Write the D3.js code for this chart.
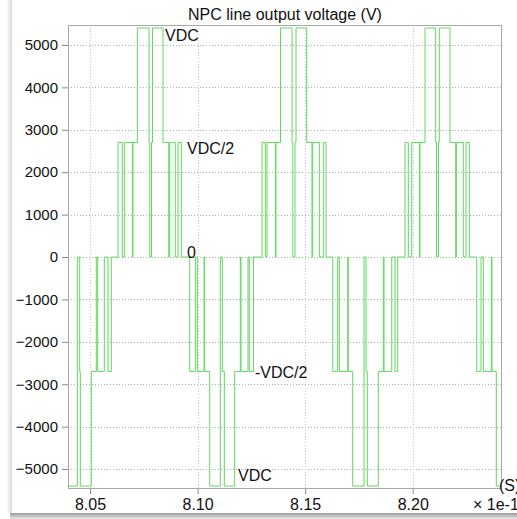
<!DOCTYPE html>
<html>
<head>
<meta charset="utf-8">
<script src="https://cdn.jsdelivr.net/npm/d3@7"></script>
<style>
html, body { margin: 0; padding: 0; background: #fff; overflow: hidden; }
svg { display: block; }
text { font-family: "Liberation Sans", Arial, sans-serif; fill: #111; }
</style>
</head>
<body>
<svg id="chart" width="517" height="519"></svg>
<script>
// ---- data (time in units of 1e-1 s, voltage in V) ----
const stepTimes = [
  8.03977, 8.04410, 8.04521, 8.04549, 8.05060, 8.05293, 8.05358, 8.05665, 8.05837, 8.05990,
  8.06302, 8.06501, 8.06594, 8.06966, 8.06999, 8.07199, 8.07743, 8.07780, 8.07859, 8.07905,
  8.08393, 8.08658, 8.08705, 8.08965, 8.09091, 8.09244, 8.09634, 8.09895, 8.09988, 8.10299,
  8.10332, 8.10564, 8.11057, 8.11150, 8.11243, 8.11726, 8.11987, 8.12019, 8.12344, 8.12405,
  8.12600, 8.12995, 8.13149, 8.13228, 8.13613, 8.13646, 8.13855, 8.14390, 8.14427, 8.14529,
  8.14576, 8.15073, 8.15319, 8.15352, 8.15659, 8.15845, 8.15970, 8.16282, 8.16514, 8.16588,
  8.16979, 8.17007, 8.17211, 8.17737, 8.17830, 8.17890, 8.18401, 8.18634, 8.18666, 8.19024,
  8.19178, 8.19303, 8.19642, 8.19796, 8.19954, 8.20307, 8.20340, 8.20572, 8.21069, 8.21107,
  8.21200, 8.21237, 8.21734, 8.21999, 8.22032, 8.22352, 8.22478, 8.22631, 8.22975, 8.23175,
  8.23282, 8.23654, 8.23686, 8.23886, 8.24105
];
const stepVoltages = [
  -5400, 0, -2700, -5400, -2700, 0, -2700, 0, -2700, 0,
  2700, 0, 2700, 0, 2700, 5400, 2700, 0, 2700, 5400,
  2700, 0, 2700, 0, 2700, 0, -2700, 0, -2700, 0,
  -2700, -5400, 0, -2700, -5400, -2700, 0, -2700, 0, -2700,
  0, 2700, 0, 2700, 0, 2700, 5400, 2700, 0, 2700,
  5400, 2700, 0, 2700, 0, 2700, 0, -2700, 0, -2700,
  0, -2700, -5400, 0, -2700, -5400, -2700, 0, -2700, 0,
  -2700, 0, 2700, 0, 2700, 0, 2700, 5400, 2700, 0,
  2700, 5400, 2700, 0, 2700, 0, 2700, 0, -2700, 0,
  -2700, 0, -2700, -5400, -5400
];
const yTickValues = [-5000, -4000, -3000, -2000, -1000, 0, 1000, 2000, 3000, 4000, 5000];
const xTickValues = [8.05, 8.10, 8.15, 8.20];
const xDomain = [8.03977, 8.24151];
const yDomain = [-5470, 5470];
const titleText = "NPC line output voltage (V)";
const annotations = [
  { t: 8.08486, v: 5090, label: "VDC" },
  { t: 8.09509, v: 2420, label: "VDC/2" },
  { t: 8.09509, v: -15, label: "0" },
  { t: 8.12670, v: -2855, label: "-VDC/2" },
  { t: 8.11880, v: -5270, label: "VDC" }
];

// ---- layout ----
const svg = d3.select("#chart");
const L = 68, R = 502, T = 25, B = 489;

// window shadow
const defs = svg.append("defs");
const gB = defs.append("linearGradient").attr("id", "shB").attr("x1", 0).attr("x2", 0).attr("y1", 0).attr("y2", 1);
gB.append("stop").attr("offset", 0).attr("stop-color", "#9a9a9a");
gB.append("stop").attr("offset", 1).attr("stop-color", "#e8e8e8");
const gL = defs.append("linearGradient").attr("id", "shL").attr("x1", 1).attr("x2", 0).attr("y1", 0).attr("y2", 0);
gL.append("stop").attr("offset", 0).attr("stop-color", "#d8d8d8");
gL.append("stop").attr("offset", 1).attr("stop-color", "#ffffff");
svg.append("rect").attr("x", 6).attr("y", 0).attr("width", 6).attr("height", 513).attr("fill", "url(#shL)");
svg.append("rect").attr("x", 10).attr("y", 513).attr("width", 507).attr("height", 6).attr("fill", "url(#shB)");

const x = d3.scaleLinear().domain(xDomain).range([L, R]);
const y = d3.scaleLinear().domain(yDomain).range([B, T]);

// grid
svg.append("g").selectAll("line").data(yTickValues).join("line")
  .attr("x1", L).attr("x2", R)
  .attr("y1", d => Math.round(y(d)) + 0.5).attr("y2", d => Math.round(y(d)) + 0.5)
  .attr("stroke", "#b0b0b0").attr("stroke-dasharray", "1,2");
svg.append("g").selectAll("line").data(xTickValues).join("line")
  .attr("y1", T).attr("y2", B)
  .attr("x1", d => Math.round(x(d)) + 0.5).attr("x2", d => Math.round(x(d)) + 0.5)
  .attr("stroke", "#c8c8c8").attr("stroke-dasharray", "1,2");

// frame
svg.append("rect").attr("x", L + 0.5).attr("y", T + 0.5).attr("width", R - L - 1).attr("height", B - T - 1)
  .attr("fill", "none").attr("stroke", "#a8a8a8");

// axes
const yAxis = d3.axisLeft(y).tickValues(yTickValues).tickSize(6).tickPadding(4).tickFormat(d3.format("d"));
const gy = svg.append("g").attr("transform", `translate(${L},0)`).call(yAxis);
gy.select(".domain").remove();
gy.selectAll(".tick line").attr("stroke", "#888");
gy.selectAll(".tick text").style("font-size", "15px").attr("fill", "#111");

const xAxis = d3.axisBottom(x).tickValues(xTickValues).tickSize(5).tickPadding(5).tickFormat(d3.format(".2f"));
const gx = svg.append("g").attr("transform", `translate(0,${B})`).call(xAxis);
gx.select(".domain").remove();
gx.selectAll(".tick line").attr("stroke", "#888");
gx.selectAll(".tick text").style("font-size", "16px").attr("fill", "#111");

// waveform
defs.append("clipPath").attr("id", "plotClip").append("rect")
  .attr("x", L).attr("y", T - 2).attr("width", R - L).attr("height", B - T + 4);
const pts = stepTimes.map((t, i) => [t, stepVoltages[i]]);
const line = d3.line().x(d => x(d[0])).y(d => y(d[1])).curve(d3.curveStepAfter);
svg.append("path").datum(pts).attr("d", line)
  .attr("fill", "none").attr("stroke", "#62d862").attr("stroke-width", 1)
  .attr("clip-path", "url(#plotClip)");

// title
svg.append("text").attr("x", 285).attr("y", 20).attr("text-anchor", "middle")
  .style("font-size", "16px").text(titleText);

// annotations
svg.append("g").selectAll("text").data(annotations).join("text")
  .attr("x", d => x(d.t)).attr("y", d => y(d.v))
  .style("font-size", "16px").text(d => d.label);

// unit labels
svg.append("text").attr("x", 499).attr("y", 491).style("font-size", "16px").text("(S)");
svg.append("text").attr("x", 473).attr("y", 510).style("font-size", "16px").text("× 1e-1");
</script>
</body>
</html>
